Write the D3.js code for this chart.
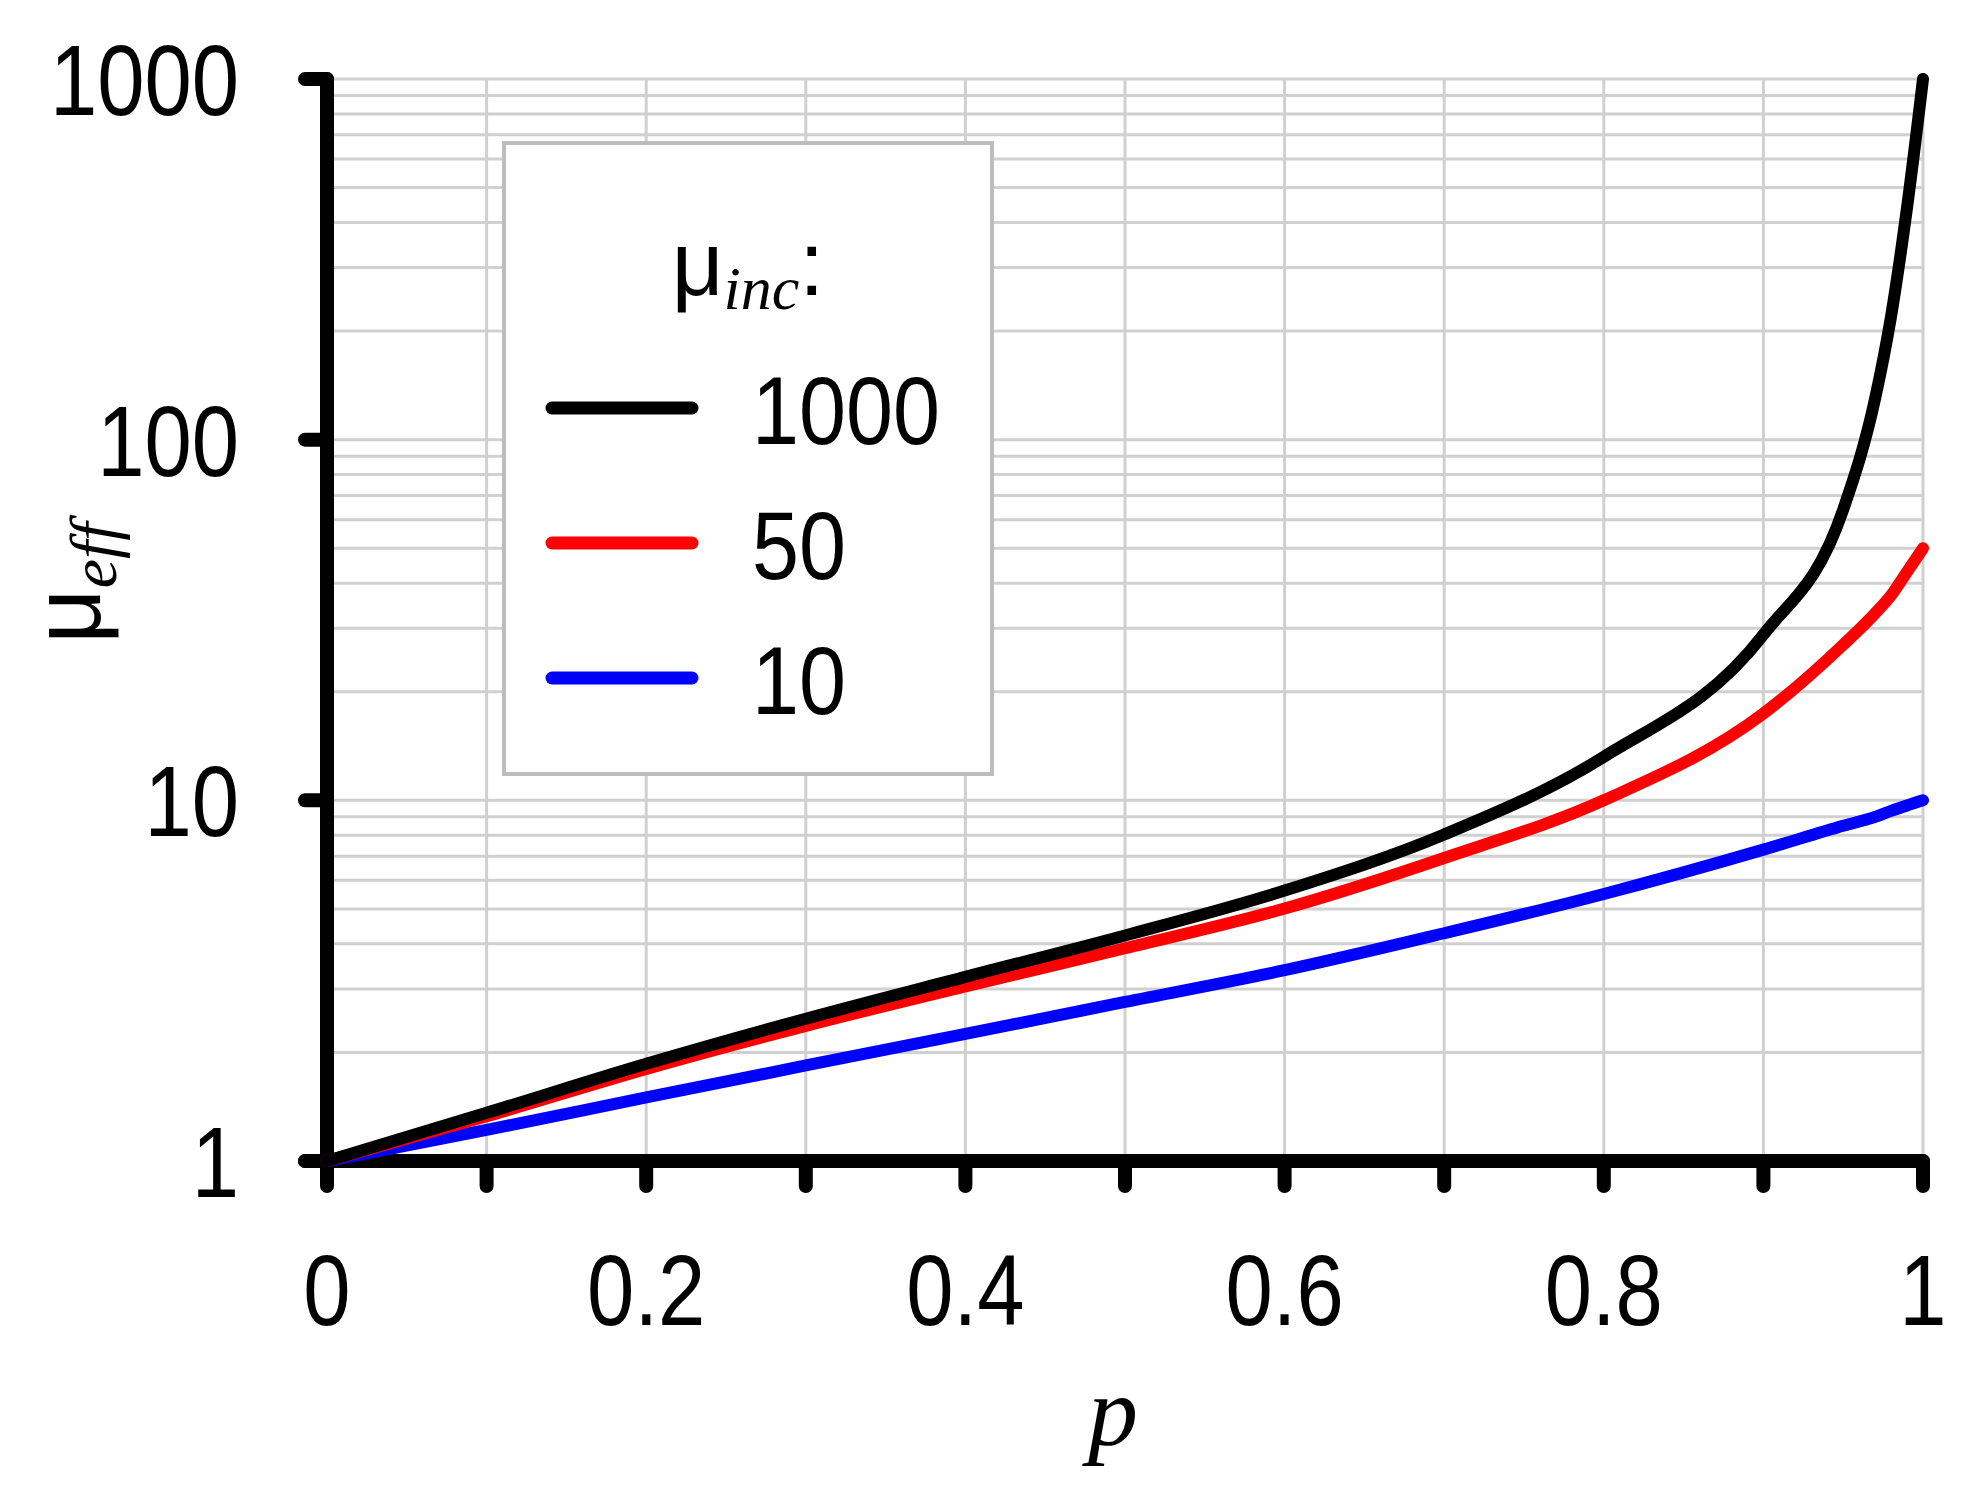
<!DOCTYPE html><html><head><meta charset="utf-8">
<script src="https://cdn.jsdelivr.net/npm/d3@7"></script>
<style>body{margin:0;background:#fff}</style></head><body><svg id="c" width="1964" height="1491"></svg>
<script>
const pVals=[0,0.1,0.2,0.3,0.4,0.5,0.6,0.7,0.8,0.9,0.95,0.97,0.98,0.99,1];
const mu1000=[1,1.36,1.86,2.48,3.24,4.22,5.62,8.04,13.2,28.8,64,130,220,440,1000];
const mu50=[1,1.33,1.8,2.37,3.05,3.89,5.01,6.92,10,17.4,27,33,37,43,50];
const mu10=[1,1.22,1.5,1.84,2.25,2.76,3.38,4.28,5.5,7.3,8.5,9.0,9.35,9.68,10];
const seriesNames=["1000","50","10"];
const colors=["#000","#f00","#00f"];
const xTicks=[0,0.2,0.4,0.6,0.8,1];
const yTicks=[1,10,100,1000];
const svg=d3.select("#c");
const F="'Liberation Sans',Arial,sans-serif";
const x=d3.scaleLinear().domain([0,1]).range([327,1923]);
const y=d3.scaleLog().domain([1,1000]).range([1161,79]);
const g=svg.append("g");
const minor=[];for(let d=1;d<1000;d*=10)for(let k=1;k<10;k++)minor.push(d*k);minor.push(1000);
g.selectAll(".hg").data(minor).join("line").attr("x1",x(0)).attr("x2",x(1)).attr("y1",d=>y(d)).attr("y2",d=>y(d)).attr("stroke","#d0d0d0").attr("stroke-width",3);
g.selectAll(".vg").data(d3.range(0,11).map(i=>i/10)).join("line").attr("x1",d=>x(d)).attr("x2",d=>x(d)).attr("y1",y(1)).attr("y2",y(1000)).attr("stroke","#d0d0d0").attr("stroke-width",3);
g.append("line").attr("x1",x(0)).attr("x2",x(0)).attr("y1",y(1)).attr("y2",y(1000)).attr("stroke","#000").attr("stroke-width",14).attr("stroke-linecap","round");
g.append("line").attr("x1",x(0)-22).attr("x2",x(1)).attr("y1",y(1)).attr("y2",y(1)).attr("stroke","#000").attr("stroke-width",14).attr("stroke-linecap","round");
g.selectAll(".xt").data(d3.range(0,11).map(i=>i/10)).join("line").attr("x1",d=>x(d)).attr("x2",d=>x(d)).attr("y1",y(1)).attr("y2",y(1)+25).attr("stroke","#000").attr("stroke-width",14).attr("stroke-linecap","round");
g.selectAll(".yt").data(yTicks).join("line").attr("x1",x(0)-22).attr("x2",x(0)).attr("y1",d=>y(d)).attr("y2",d=>y(d)).attr("stroke","#000").attr("stroke-width",14).attr("stroke-linecap","round");
g.selectAll(".xl").data(xTicks).join("text").attr("transform",d=>`translate(${x(d)},1325) scale(0.85,1)`).attr("text-anchor","middle").attr("font-family",F).attr("font-size",100).text(d=>d3.format("")(d));
g.selectAll(".yl").data(yTicks).join("text").attr("transform",d=>`translate(${x(0)-88},${y(d)+36}) scale(0.85,1)`).attr("text-anchor","end").attr("font-family",F).attr("font-size",100).text(d=>d);
svg.append("text").attr("x",1113).attr("y",1445).attr("text-anchor","middle").attr("font-family","'Liberation Serif',serif").attr("font-style","italic").attr("font-size",100).text("p");
const yl=svg.append("text").attr("transform","translate(100,583) rotate(-90)").attr("text-anchor","middle").attr("font-family",F).attr("font-size",96);
yl.append("tspan").text("μ");yl.append("tspan").attr("font-family","'Liberation Serif',serif").attr("font-style","italic").attr("font-size",66).attr("dy",16).text("eff");
const data=[mu1000,mu50,mu10];
const line=d3.line().x((d,i)=>x(pVals[i])).y(d=>y(d)).curve(d3.curveMonotoneX);
[2,1,0].forEach(i=>{g.append("path").attr("d",line(data[i])).attr("fill","none").attr("stroke",colors[i]).attr("stroke-width",12).attr("stroke-linecap","round");});
const L=svg.append("g");
L.append("rect").attr("x",504).attr("y",143).attr("width",488).attr("height",631).attr("fill","#fff").attr("stroke","#bdbdbd").attr("stroke-width",4);
const t=L.append("text").attr("x",748).attr("y",295).attr("text-anchor","middle").attr("font-family",F).attr("font-size",90);
t.append("tspan").text("μ");t.append("tspan").attr("font-family","'Liberation Serif',serif").attr("font-style","italic").attr("font-size",62).attr("dy",14).text("inc");t.append("tspan").attr("dy",-14).text(":");
seriesNames.forEach((n,i)=>{const yy=408+i*135;
L.append("line").attr("x1",552).attr("x2",692).attr("y1",yy).attr("y2",yy).attr("stroke",colors[i]).attr("stroke-width",13).attr("stroke-linecap","round");
L.append("text").attr("transform",`translate(752,${yy+36}) scale(0.88,1)`).attr("font-family",F).attr("font-size",96).text(n);});
</script></body></html>
